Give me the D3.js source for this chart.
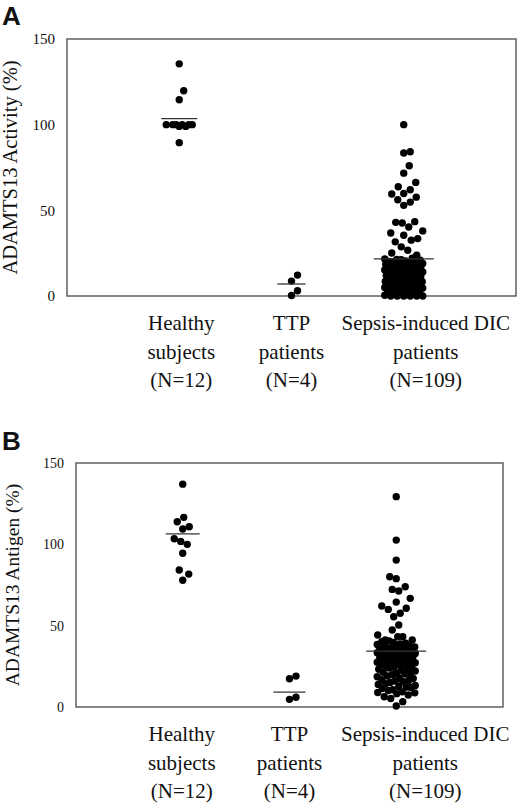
<!DOCTYPE html>
<html>
<head>
<meta charset="utf-8">
<script src="https://cdn.jsdelivr.net/npm/d3@7"></script>
<style>
  body { margin: 0; background: #fff; }
  text { font-family: "Liberation Serif", "Times New Roman", serif; fill: #111; }
</style>
</head>
<body>
<div class="chart"></div>
<script>
// data //
var groups = ["Healthy", "TTP", "Sepsis"];
var groupLabels = [
  ["Healthy", "subjects", "(N=12)"],
  ["TTP", "patients", "(N=4)"],
  ["Sepsis-induced DIC", "patients", "(N=109)"]
];
var yTicks = [0, 50, 100, 150];

// A - activity (%)
var activityHealthy = [135.5, 119.8, 114.5, 100, 100, 100, 100, 100, 100, 99, 99, 89.5];
var activityTTP = [12.2, 8.7, 3.1, 0.3];
var activitySepsis = [
  100, 84.2, 83.5, 76, 71.7, 66.3, 63.8, 62, 59.8, 59.5, 57.7, 56.2, 54.8, 52.9,
  43.4, 43, 42.6, 40.3, 38, 36.8, 35.5, 33.5, 32.6, 31.6, 28.7, 26.7, 25.1, 23.8,
  0, 0, 0, 0, 0, 0, 0.4, 0.8,
  1.5, 2.2, 2.6, 3.1, 3.3, 3.9, 4.4, 4.6,
  5.0, 5.2, 5.8, 6.1, 6.3, 6.9, 7.2, 7.4, 7.9,
  8.3, 8.5, 8.9, 9.4, 9.6, 10.0, 10.3, 10.7, 11.0,
  11.3, 11.9, 12.2, 12.4, 12.9, 13.1, 13.6, 14.0, 14.3, 14.8,
  15.2, 15.4, 15.9, 16.3, 16.5, 16.9, 17.4, 17.6, 18.1,
  18.4, 18.8, 19.0, 19.5, 19.7, 20.2, 20.5, 20.9, 21.2, 21.6, 22.0,
  1.1, 2.9, 4.0, 5.5, 6.6, 7.7, 9.1, 10.5, 11.6, 12.7, 13.8, 15.0, 16.1, 17.2, 18.6, 19.9, 21.4
];
var activityMeans = [103.5, 7, 21.7];

// B - antigen (%)
var antigenHealthy = [137, 116.6, 113.9, 110.8, 109.4, 103.4, 101.8, 100, 94.5, 84.2, 81.7, 77.9];
var antigenTTP = [19, 17.4, 6, 4.7];
var antigenSepsis = [
  129.3, 102.6, 90.3, 80.1, 78.9, 73.9, 72.3, 71.3, 66.8, 64.5, 62.1, 60.7, 60, 57.6,
  55.5, 50.4, 47.3, 44.3, 43.2, 43.2, 41.2, 41.2,
  40.6, 40.1, 39.7, 39.2, 38.8, 38.4, 38.1, 37.6, 37.2, 36.9, 36.4, 36.1, 35.8, 35.3,
  35.0, 34.6, 34.2, 33.9, 33.4, 33.1, 32.7, 32.3, 31.8, 31.5, 31.1, 30.6, 30.2, 29.9,
  29.4, 29.0, 28.6, 28.1, 27.7, 27.2, 26.8, 26.3, 25.9, 25.4, 24.9, 24.5, 24.0, 23.2,
  22.6, 22.1, 21.4, 20.9, 20.3, 19.8, 19.1, 18.6, 18.0, 17.5, 16.8, 16.3, 15.7, 15.1,
  14.4, 13.9, 13.2, 12.6, 12.0, 11.3, 10.6, 10.1, 9.3, 8.7, 8.2, 7.4, 6.3, 5.2,
  3.3, 0.6, 36.6, 32.9, 30.8, 27.5, 24.2, 20.6, 16.0, 12.3, 8.9
];
var antigenMeans = [106.4, 9.2, 34.4];

// layout //
var width = 520;
var height = 806;
var r = 3.7;
var minDist = 6.5;   // wanted gap between dot centres
var ySquash = 0.55;  // vertical gaps count for less, so near rows spread out

var svg = d3.select(".chart")
            .append("svg")
            .attr("width", width)
            .attr("height", height);

// spread points sideways, within +-cap; when the column is full take the least crowded spot
var dodge = function(values, yScale, cap){
  var pts = values.map(function(v){ return {v: v, y: yScale(v), dx: 0}; })
                  .sort(function(a, b){ return b.y - a.y; });
  var placed = [];
  var cands = [0];
  for (var s = 0.5; s <= cap; s += 0.5) { cands.push(s, -s); }
  pts.forEach(function(p){
    var best = 0, bestD = -1;
    for (var k = 0; k < cands.length; k++) {
      var off = cands[k];
      var dmin = Infinity;
      placed.forEach(function(q){
        var dx = q.dx - off, dy = (q.y - p.y) * ySquash;
        var d = Math.sqrt(dx * dx + dy * dy);
        if (d < dmin) dmin = d;
      });
      if (dmin >= minDist) { best = off; bestD = dmin; break; }
      if (dmin > bestD + 0.01) { best = off; bestD = dmin; }
    }
    p.dx = best;
    placed.push(p);
  });
  return pts;
};

var panel = function(o){
  var g = svg.append("g");

  var yScale = d3.scaleLinear()
                 .domain([0, 150])
                 .range([o.bottom, o.top]);
  var xScale = d3.scalePoint()
                 .domain(groups)
                 .range([o.left, o.right])
                 .padding(1);

  // frame
  g.append("rect")
   .attr("x", o.left)
   .attr("y", o.top)
   .attr("width", o.right - o.left)
   .attr("height", o.bottom - o.top)
   .attr("fill", "none")
   .attr("stroke", "#555")
   .attr("stroke-width", 1.4);

  var yAxis = d3.axisLeft()
                .scale(yScale)
                .tickValues(yTicks)
                .tickSize(0)
                .tickPadding(12);
  var ax = g.append("g")
            .attr("transform", "translate(" + o.left + ",0)")
            .call(yAxis);
  ax.select(".domain").remove();
  ax.selectAll("text")
    .style("font-family", "Liberation Serif, Times New Roman, serif")
    .style("font-size", o.tickFont + "px")
    .attr("fill", "#111");

  // dots
  o.series.forEach(function(vals, i){
    g.append("g")
     .selectAll("circle")
     .data(dodge(vals, yScale, o.caps[i]))
     .enter()
     .append("circle")
     .attr("cx", function(d){ return xScale(groups[i]) + d.dx; })
     .attr("cy", function(d){ return d.y; })
     .attr("r", r)
     .attr("fill", "#000");
  });

  // mean lines
  g.append("g")
   .selectAll("line")
   .data(o.means)
   .enter()
   .append("line")
   .attr("x1", function(d, i){ return xScale(groups[i]) - o.meanHalf[i]; })
   .attr("x2", function(d, i){ return xScale(groups[i]) + o.meanHalf[i]; })
   .attr("y1", function(d){ return yScale(d); })
   .attr("y2", function(d){ return yScale(d); })
   .attr("stroke", "#333")
   .attr("stroke-width", 1.3);

  // group labels
  groupLabels.forEach(function(lines, i){
    g.append("g")
     .selectAll("text")
     .data(lines)
     .enter()
     .append("text")
     .attr("x", xScale(groups[i]) + o.labelShift[i])
     .attr("y", function(d, j){ return o.bottom + 34 + j * 28.7; })
     .attr("text-anchor", "middle")
     .style("font-size", "21px")
     .text(function(d){ return d; });
  });

  // y title
  g.append("text")
   .attr("transform", "translate(" + o.titleX + "," + ((o.top + o.bottom) / 2) + ") rotate(-90)")
   .attr("text-anchor", "middle")
   .style("font-size", o.titleFont + "px")
   .text(o.title);

  // panel letter
  g.append("text")
   .attr("x", 2)
   .attr("y", o.letterY)
   .style("font-family", "Liberation Sans, Arial, sans-serif")
   .style("font-weight", "bold")
   .style("font-size", "26px")
   .attr("fill", "#000")
   .text(o.letter);
};

// graph A - activity //
panel({
  left: 67, right: 516, top: 39, bottom: 296,
  series: [activityHealthy, activityTTP, activitySepsis],
  caps: [13, 8, 19],
  means: activityMeans,
  meanHalf: [18, 14, 30],
  labelShift: [2, 0, 22],
  tickFont: 15,
  title: "ADAMTS13 Activity (%)",
  titleX: 17, titleFont: 20.5,
  letter: "A", letterY: 25
});

// graph B - antigen //
panel({
  left: 76, right: 503, top: 463, bottom: 707,
  series: [antigenHealthy, antigenTTP, antigenSepsis],
  caps: [13, 8, 19],
  means: antigenMeans,
  meanHalf: [17, 16, 30],
  labelShift: [-1, 0, 29],
  tickFont: 14,
  title: "ADAMTS13 Antigen (%)",
  titleX: 19, titleFont: 19.5,
  letter: "B", letterY: 450
});
</script>
</body>
</html>
